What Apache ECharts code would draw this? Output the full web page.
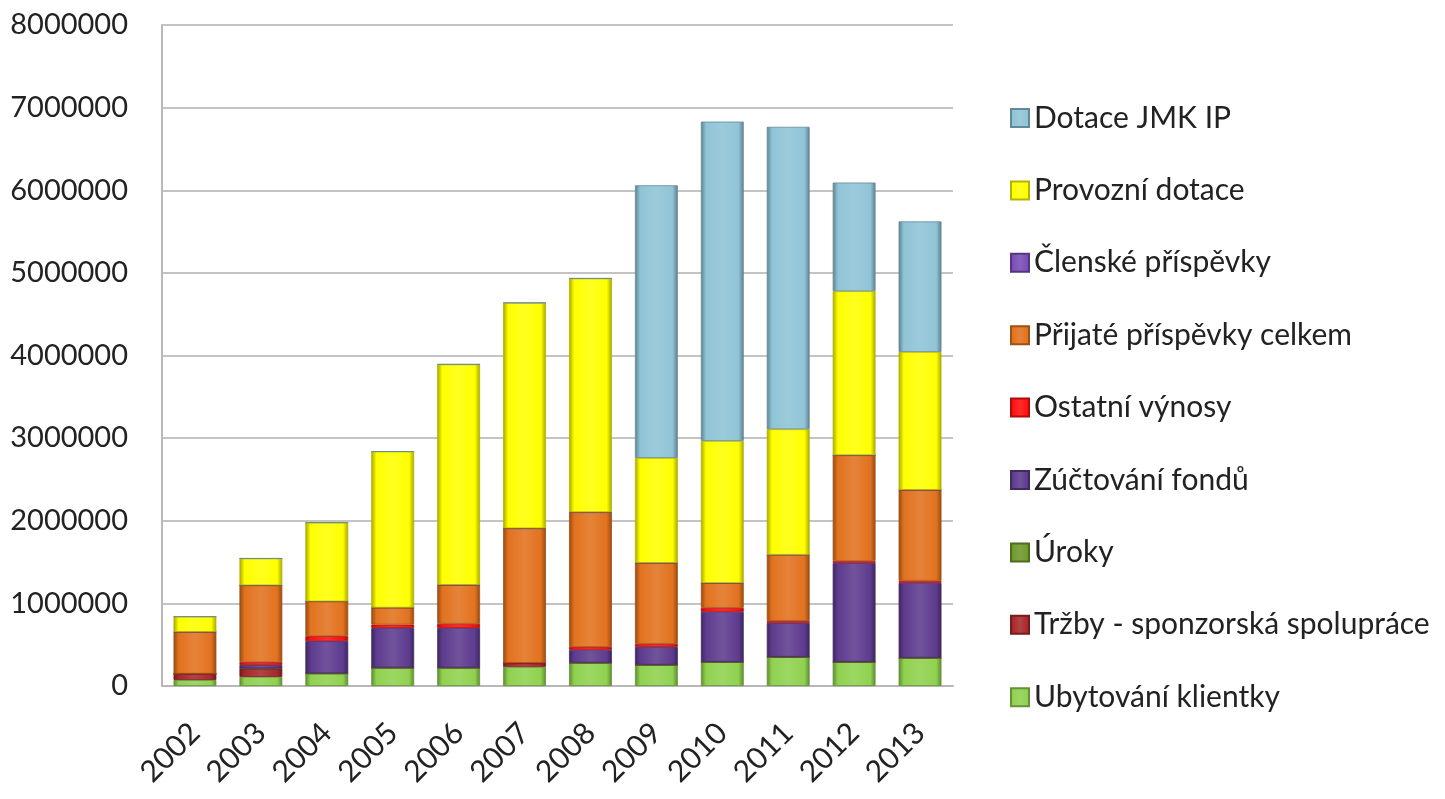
<!DOCTYPE html>
<html>
<head>
<meta charset="utf-8">
<script src="https://cdn.jsdelivr.net/npm/echarts@6/dist/echarts.min.js"></script>
<style>
html,body{margin:0;padding:0;background:#fff;}
#chart{width:1445px;height:799px;}
</style>
</head>
<body>
<div id="chart"></div>
<script>
// ---- data ----
const categories = ['2002','2003','2004','2005','2006','2007','2008','2009','2010','2011','2012','2013'];
const yTicks = [0,1000000,2000000,3000000,4000000,5000000,6000000,7000000,8000000];

const ubytovaniKlientky   = [72000, 110000, 150000, 220000, 220000, 230000, 280000, 255000, 290000, 350000, 290000, 340000];
const trzbySponzorska     = [73000, 100000, 0, 0, 0, 45000, 0, 0, 0, 0, 0, 0];
const uroky               = [3000, 3000, 3000, 3000, 3000, 3000, 3000, 3000, 3000, 3000, 3000, 3000];
const zuctovaniFondu      = [0, 40000, 390000, 480000, 480000, 0, 155000, 215000, 605000, 410000, 1195000, 905000];
const ostatniVynosy       = [0, 35000, 60000, 40000, 50000, 0, 35000, 37000, 48000, 25000, 25000, 25000];
const prijatePrispevky    = [507000, 930000, 420000, 205000, 470000, 1630000, 1630000, 980000, 300000, 800000, 1280000, 1100000];
const clenskePrispevky    = [0, 0, 0, 0, 0, 0, 0, 0, 0, 0, 0, 0];
const provozniDotace      = [185000, 326000, 955000, 1890000, 2670000, 2730000, 2830000, 1270000, 1720000, 1520000, 1985000, 1670000];
const dotaceJMK           = [0, 0, 0, 0, 0, 0, 0, 3300000, 3865000, 3660000, 1315000, 1580000];

const seriesNames = ['Ubytování klientky','Tržby - sponzorská spolupráce','Úroky','Zúčtování fondů','Ostatní výnosy','Přijaté příspěvky celkem','Členské příspěvky','Provozní dotace','Dotace JMK IP'];
const seriesData = [ubytovaniKlientky, trzbySponzorska, uroky, zuctovaniFondu, ostatniVynosy, prijatePrispevky, clenskePrispevky, provozniDotace, dotaceJMK];
const seriesColors = ['#8fd14f','#a8282c','#6f9a2c','#5e3b8e','#ff1010','#e2721e','#7a4db5','#ffff00','#8fc4d6'];

// ---- styling helpers ----
function shade(hex, f){
  const n = parseInt(hex.slice(1),16);
  let r=(n>>16)&255, g=(n>>8)&255, b=n&255;
  if(f<0){ r=Math.round(r*(1+f)); g=Math.round(g*(1+f)); b=Math.round(b*(1+f)); }
  else { r=Math.round(r+(255-r)*f); g=Math.round(g+(255-g)*f); b=Math.round(b+(255-b)*f); }
  return 'rgb('+r+','+g+','+b+')';
}
function grad(c){
  return new echarts.graphic.LinearGradient(0,0,1,0,[
    {offset:0, color:shade(c,-0.35)},
    {offset:0.12, color:c},
    {offset:0.5, color:shade(c,0.12)},
    {offset:0.88, color:c},
    {offset:1, color:shade(c,-0.35)}
  ]);
}

const chart = echarts.init(document.getElementById('chart'));
const FONT = 'Lato, "Open Sans", sans-serif';

const series = seriesNames.map((name,i)=>({
  name: name,
  type: 'bar',
  stack: 'total',
  barCategoryGap: '35%',
  data: seriesData[i],
  itemStyle: {
    color: grad(seriesColors[i]),
    borderColor: shade(seriesColors[i], -0.3),
    borderWidth: 0.8
  },
  emphasis: {disabled: true}
}));

chart.setOption({
  animation: false,
  backgroundColor: '#ffffff',
  grid: {left: 162, right: 492, top: 25, bottom: 113, containLabel: false},
  legend: {
    orient: 'vertical',
    left: 1005,
    top: 98,
    itemWidth: 18,
    itemHeight: 18,
    itemGap: 42.4,
    icon: 'rect',
    data: seriesNames.slice().reverse(),
    textStyle: {fontFamily: FONT, fontSize: 30, color: '#222', lineHeight: 30, padding:[0,0,0,0]}
  },
  xAxis: {
    type: 'category',
    data: categories,
    axisLine: {lineStyle: {color: '#b8b8b8', width: 2}},
    axisTick: {show: false},
    axisLabel: {rotate: 45, fontFamily: FONT, fontSize: 30, color: '#222', margin: 42}
  },
  yAxis: {
    type: 'value',
    min: yTicks[0],
    max: yTicks[yTicks.length-1],
    interval: 1000000,
    axisLine: {show: true, lineStyle: {color: '#b8b8b8', width: 2}},
    axisTick: {show: false},
    splitLine: {lineStyle: {color: '#c4c4c4', width: 2}},
    axisLabel: {fontFamily: FONT, fontSize: 29, color: '#222', margin: 34, formatter: v => String(v)}
  },
  series: series
});
</script>
</body>
</html>
